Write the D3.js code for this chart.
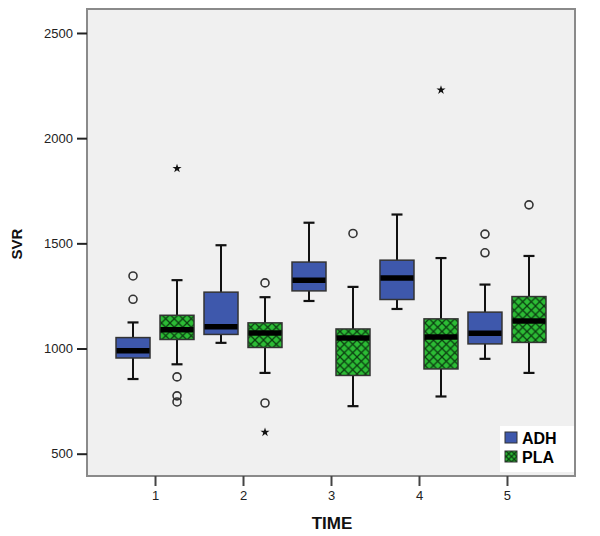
<!DOCTYPE html>
<html>
<head>
<meta charset="utf-8">
<script src="https://cdn.jsdelivr.net/npm/d3@7"></script>
<style>
html,body{margin:0;padding:0;background:#fff;}
svg{display:block;font-family:"Liberation Sans",Arial,sans-serif;}
</style>
</head>
<body>
<svg id="chart" width="600" height="536"></svg>
<script>
// ---- data ----
const times = [1, 2, 3, 4, 5];
const yTicks = [500, 1000, 1500, 2000, 2500];
const groups = ["ADH", "PLA"];

const adhLow  = [855, 1027, 1226, 1188, 951];
const adhQ1   = [955, 1067, 1274, 1233, 1022];
const adhMed  = [990, 1103, 1325, 1335, 1073];
const adhQ3   = [1052, 1268, 1411, 1420, 1173];
const adhHigh = [1124, 1491, 1598, 1637, 1304];

const plaLow  = [925, 884, 726, 772, 884];
const plaQ1   = [1043, 1005, 872, 903, 1029];
const plaMed  = [1089, 1074, 1050, 1055, 1131];
const plaQ3   = [1158, 1122, 1093, 1141, 1247];
const plaHigh = [1325, 1244, 1293, 1430, 1440];

// outliers: [time, value]
const adhCircles = [[1, 1345], [1, 1234], [5, 1544], [5, 1455]];
const adhStars   = [];
const plaCircles = [[1, 865], [1, 775], [1, 746], [2, 1312], [2, 741], [3, 1547], [5, 1683]];
const plaStars   = [[1, 1856], [2, 602], [4, 2229]];

// ---- layout ----
const svg = d3.select("#chart");
const pL = 87, pR = 575, pT = 9, pB = 476;
const x = d3.scaleLinear().domain([0.227, 5.773]).range([pL, pR]);
const y = d3.scaleLinear().domain([394, 2614]).range([pB, pT]);
const offset = d3.scaleOrdinal().domain(groups).range([-22, 22]);
const boxW = 34, capW = 11;

const defs = svg.append("defs");
function hatch(id, size) {
  const p = defs.append("pattern").attr("id", id)
    .attr("patternUnits", "userSpaceOnUse").attr("width", size).attr("height", size);
  p.append("rect").attr("width", size).attr("height", size).attr("fill", "#2cbc35");
  p.append("path").attr("d", `M0,0L${size},${size}M${size},0L0,${size}`)
    .attr("stroke", "#0b3d10").attr("stroke-width", 1.3).attr("fill", "none");
}
hatch("hatch", 8.5);
hatch("hatchSmall", 5.5);

// plot background and frame
svg.append("rect").attr("x", pL).attr("y", pT).attr("width", pR - pL).attr("height", pB - pT)
  .attr("fill", "#f0f0f0").attr("stroke", "#8a8a8a").attr("stroke-width", 2);

// y axis
const yAxis = svg.append("g").attr("transform", `translate(${pL},0)`)
  .call(d3.axisLeft(y).tickValues(yTicks).tickSize(10).tickPadding(4).tickFormat(d3.format("d")));
yAxis.select(".domain").remove();
yAxis.selectAll("line").attr("stroke", "#222").attr("stroke-width", 2);
yAxis.selectAll("text").attr("font-size", 13).attr("fill", "#222").attr("font-family", "Liberation Sans, Arial, sans-serif");

// x axis
const xAxis = svg.append("g").attr("transform", `translate(0,${pB})`)
  .call(d3.axisBottom(x).tickValues(times).tickSize(10).tickPadding(5).tickFormat(d3.format("d")));
xAxis.select(".domain").remove();
xAxis.selectAll("line").attr("stroke", "#444").attr("stroke-width", 2);
xAxis.selectAll("text").attr("font-size", 13).attr("fill", "#222").attr("font-family", "Liberation Sans, Arial, sans-serif");

// axis titles
svg.append("text").attr("x", 332).attr("y", 529).attr("text-anchor", "middle")
  .attr("font-size", 17).attr("font-weight", "bold").attr("fill", "#111").text("TIME");
svg.append("text").attr("transform", "translate(22,244) rotate(-90)").attr("text-anchor", "middle")
  .attr("font-size", 15).attr("font-weight", "bold").attr("fill", "#111").text("SVR");

// boxes
function drawBoxes(group, low, q1, med, q3, high, fill) {
  const g = svg.append("g");
  times.forEach((t, i) => {
    const cx = x(t) + offset(group);
    g.append("line").attr("x1", cx).attr("x2", cx).attr("y1", y(high[i])).attr("y2", y(q3[i]))
      .attr("stroke", "#111").attr("stroke-width", 2);
    g.append("line").attr("x1", cx).attr("x2", cx).attr("y1", y(q1[i])).attr("y2", y(low[i]))
      .attr("stroke", "#111").attr("stroke-width", 2);
    g.append("line").attr("x1", cx - capW / 2).attr("x2", cx + capW / 2).attr("y1", y(high[i])).attr("y2", y(high[i]))
      .attr("stroke", "#111").attr("stroke-width", 2.2);
    g.append("line").attr("x1", cx - capW / 2).attr("x2", cx + capW / 2).attr("y1", y(low[i])).attr("y2", y(low[i]))
      .attr("stroke", "#111").attr("stroke-width", 2.2);
    g.append("rect").attr("x", cx - boxW / 2).attr("y", y(q3[i])).attr("width", boxW)
      .attr("height", y(q1[i]) - y(q3[i])).attr("fill", fill).attr("stroke", "#333").attr("stroke-width", 1.5);
    g.append("line").attr("x1", cx - boxW / 2 + 0.5).attr("x2", cx + boxW / 2 - 0.5).attr("y1", y(med[i])).attr("y2", y(med[i]))
      .attr("stroke", "#000").attr("stroke-width", 5.5);
  });
}
drawBoxes("ADH", adhLow, adhQ1, adhMed, adhQ3, adhHigh, "#3e58ac");
drawBoxes("PLA", plaLow, plaQ1, plaMed, plaQ3, plaHigh, "url(#hatch)");

// outliers
const star = d3.symbol().type(d3.symbolStar).size(26);
function drawOutliers(group, circles, stars) {
  svg.append("g").selectAll("circle").data(circles).join("circle")
    .attr("cx", d => x(d[0]) + offset(group)).attr("cy", d => y(d[1])).attr("r", 4)
    .attr("fill", "none").attr("stroke", "#333").attr("stroke-width", 1.6);
  svg.append("g").selectAll("path").data(stars).join("path")
    .attr("transform", d => `translate(${x(d[0]) + offset(group)},${y(d[1])})`)
    .attr("d", star).attr("fill", "#111");
}
drawOutliers("ADH", adhCircles, adhStars);
drawOutliers("PLA", plaCircles, plaStars);

// legend
const lg = svg.append("g");
lg.append("rect").attr("x", 500).attr("y", 426).attr("width", 74).attr("height", 46).attr("fill", "#fff");
const legendFill = { ADH: "#3e58ac", PLA: "url(#hatchSmall)" };
groups.forEach((gname, i) => {
  const yy = 432 + i * 19;
  lg.append("rect").attr("x", 505).attr("y", yy).attr("width", 12).attr("height", 11)
    .attr("fill", legendFill[gname]).attr("stroke", "#333").attr("stroke-width", 1);
  lg.append("text").attr("x", 522).attr("y", yy + 11.5).attr("font-size", 16).attr("font-weight", "bold")
    .attr("fill", "#000").text(gname);
});
</script>
</body>
</html>
